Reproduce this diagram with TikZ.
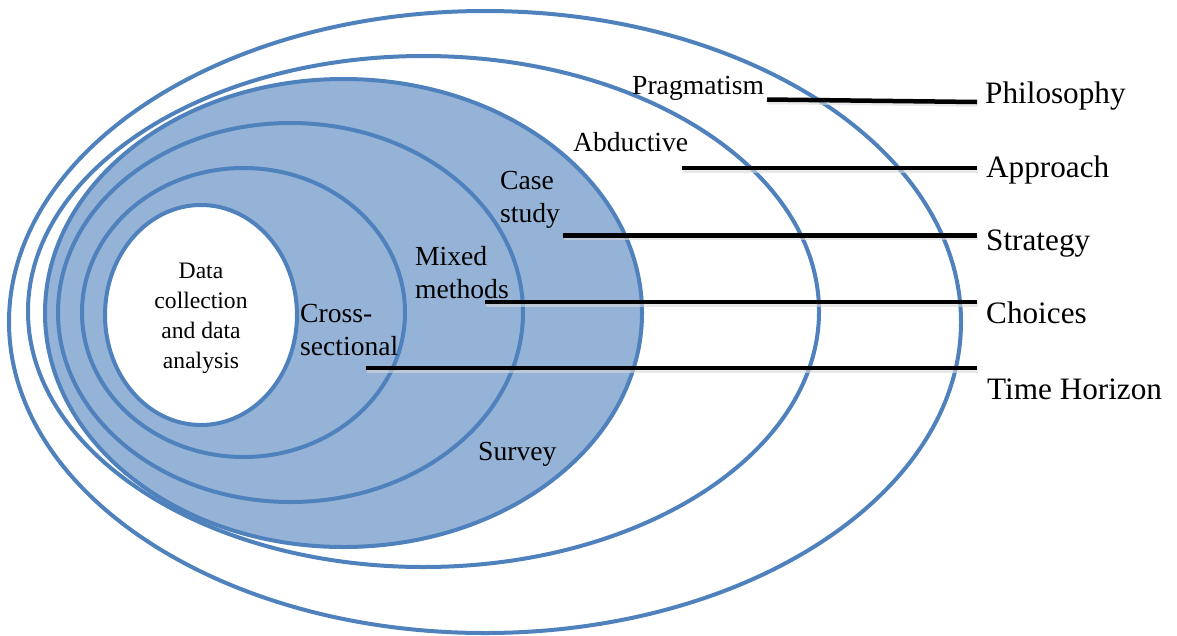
\documentclass[tikz,border=0pt]{standalone}
\usepackage{fontspec}
\setmainfont{Liberation Serif}
\definecolor{ringline}{HTML}{4F81BD}
\definecolor{ringfill}{HTML}{95B3D7}
\tikzset{
  ring/.style={draw=ringline, line width=4pt},
  leader/.style={draw=black, line width=4.5pt},
  leadershadow/.style={draw=black!15, line width=4.5pt, opacity=0.6},
  layerlabel/.style={font=\fontsize{27.6}{32.5}\selectfont, inner sep=0pt, align=left, anchor=base west},
  corelabel/.style={font=\fontsize{23.6}{30}\selectfont, inner sep=0pt, align=center, anchor=base},
  sidelabel/.style={font=\fontsize{31.2}{36}\selectfont, inner sep=0pt, anchor=base west}
}
\begin{document}
\begin{tikzpicture}[x=1pt,y=-1pt]
\useasboundingbox (0,0) rectangle (1177,635);

% the nested layers, outermost first
\draw[ring, fill=white]    (485,322)   ellipse [x radius=476,   y radius=311];
\draw[ring, fill=white]    (423.5,311.5) ellipse [x radius=395.5, y radius=255.5];
\draw[ring, fill=ringfill] (343.5,313) ellipse [x radius=298.5, y radius=234];
\draw[ring]                (290.5,312.5) ellipse [x radius=232.5, y radius=189.5];
\draw[ring]                (243.5,312.5) ellipse [x radius=161.5, y radius=144.5];
\draw[ring, fill=white]    (201,315)   ellipse [x radius=96,    y radius=110];

% labels inside the layers (multi-line nodes sit on their last baseline)
\node[corelabel]  (core)   at (201,368) {Data\\collection\\and data\\analysis};
\node[layerlabel] (cross)  at (300,355) {Cross-\\sectional};
\node[layerlabel] (mixed)  at (415,298) {Mixed\\methods};
\node[layerlabel] (case)   at (500,222) {Case\\study};
\node[layerlabel] (survey) at (478,460) {Survey};
\node[layerlabel] (abduct) at (573,151) {Abductive};
\node[layerlabel] (pragma) at (632,94)  {Pragmatism};

% layer names on the right
\node[sidelabel] (philosophy) at (985,103) {Philosophy};
\node[sidelabel] (approach)   at (986,177) {Approach};
\node[sidelabel] (strategy)   at (986,250) {Strategy};
\node[sidelabel] (choices)    at (986,323) {Choices};
\node[sidelabel] (horizon)    at (987,399) {Time Horizon};

% leader line end points
\coordinate (phA) at (767,99.5);  \coordinate (phB) at (977,102);
\coordinate (apA) at (682,168);   \coordinate (apB) at (977,168);
\coordinate (stA) at (563,235.5); \coordinate (stB) at (977,235.5);
\coordinate (chA) at (485,302);   \coordinate (chB) at (977,302);
\coordinate (thA) at (366,368);   \coordinate (thB) at (977,368);

% soft shadows under the leaders
\foreach \a/\b in {phA/phB, apA/apB, stA/stB, chA/chB, thA/thB}
  \draw[leadershadow] ([shift={(0.5,2.5)}]\a) -- ([shift={(0.5,2.5)}]\b);

% leader lines
\foreach \a/\b in {phA/phB, apA/apB, stA/stB, chA/chB, thA/thB}
  \draw[leader] (\a) -- (\b);
\end{tikzpicture}
\end{document}
